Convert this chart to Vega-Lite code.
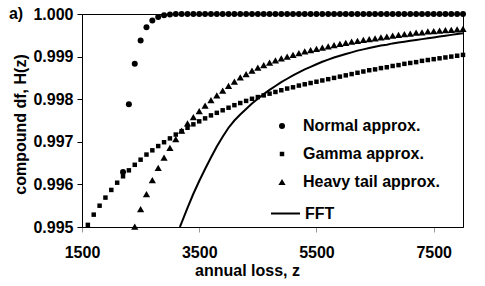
{
  "$schema": "https://vega.github.io/schema/vega-lite/v6.json",
  "width": 381,
  "height": 213,
  "autosize": {"type": "none"},
  "padding": {"left": 82, "top": 14, "right": 22, "bottom": 59},
  "background": "white",
  "title": {"text": "a)", "anchor": "start", "frame": "bounds", "orient": "top", "fontSize": 16, "font": "Liberation Sans", "fontWeight": "bold", "color": "black", "offset": 0, "baseline": "alphabetic", "dy": 29, "dx": -4},
  "config": {
    "view": {"stroke": "black", "strokeWidth": 1},
    "axis": {"grid": false, "domainColor": "black", "labelFont": "Liberation Sans", "labelFontWeight": "bold", "labelFontSize": 16, "labelColor": "black", "titleFont": "Liberation Sans", "titleFontWeight": "bold", "titleFontSize": 16, "titleColor": "black"},
    "legend": {"labelFont": "Liberation Sans", "labelFontWeight": "bold", "labelFontSize": 16, "labelColor": "black", "padding": 0}
  },
  "datasets": {
    "pts": [
      {"series": "Normal approx.", "z": 2200, "H": 0.99629},
      {"series": "Normal approx.", "z": 2300, "H": 0.99788},
      {"series": "Normal approx.", "z": 2400, "H": 0.99883},
      {"series": "Normal approx.", "z": 2500, "H": 0.99938},
      {"series": "Normal approx.", "z": 2600, "H": 0.99969},
      {"series": "Normal approx.", "z": 2700, "H": 0.99985},
      {"series": "Normal approx.", "z": 2800, "H": 0.99993},
      {"series": "Normal approx.", "z": 2900, "H": 0.99997},
      {"series": "Normal approx.", "z": 3000, "H": 0.99999},
      {"series": "Normal approx.", "z": 3100, "H": 1.0},
      {"series": "Normal approx.", "z": 3200, "H": 1.0},
      {"series": "Normal approx.", "z": 3300, "H": 1.0},
      {"series": "Normal approx.", "z": 3400, "H": 1.0},
      {"series": "Normal approx.", "z": 3500, "H": 1.0},
      {"series": "Normal approx.", "z": 3600, "H": 1.0},
      {"series": "Normal approx.", "z": 3700, "H": 1.0},
      {"series": "Normal approx.", "z": 3800, "H": 1.0},
      {"series": "Normal approx.", "z": 3900, "H": 1.0},
      {"series": "Normal approx.", "z": 4000, "H": 1.0},
      {"series": "Normal approx.", "z": 4100, "H": 1.0},
      {"series": "Normal approx.", "z": 4200, "H": 1.0},
      {"series": "Normal approx.", "z": 4300, "H": 1.0},
      {"series": "Normal approx.", "z": 4400, "H": 1.0},
      {"series": "Normal approx.", "z": 4500, "H": 1.0},
      {"series": "Normal approx.", "z": 4600, "H": 1.0},
      {"series": "Normal approx.", "z": 4700, "H": 1.0},
      {"series": "Normal approx.", "z": 4800, "H": 1.0},
      {"series": "Normal approx.", "z": 4900, "H": 1.0},
      {"series": "Normal approx.", "z": 5000, "H": 1.0},
      {"series": "Normal approx.", "z": 5100, "H": 1.0},
      {"series": "Normal approx.", "z": 5200, "H": 1.0},
      {"series": "Normal approx.", "z": 5300, "H": 1.0},
      {"series": "Normal approx.", "z": 5400, "H": 1.0},
      {"series": "Normal approx.", "z": 5500, "H": 1.0},
      {"series": "Normal approx.", "z": 5600, "H": 1.0},
      {"series": "Normal approx.", "z": 5700, "H": 1.0},
      {"series": "Normal approx.", "z": 5800, "H": 1.0},
      {"series": "Normal approx.", "z": 5900, "H": 1.0},
      {"series": "Normal approx.", "z": 6000, "H": 1.0},
      {"series": "Normal approx.", "z": 6100, "H": 1.0},
      {"series": "Normal approx.", "z": 6200, "H": 1.0},
      {"series": "Normal approx.", "z": 6300, "H": 1.0},
      {"series": "Normal approx.", "z": 6400, "H": 1.0},
      {"series": "Normal approx.", "z": 6500, "H": 1.0},
      {"series": "Normal approx.", "z": 6600, "H": 1.0},
      {"series": "Normal approx.", "z": 6700, "H": 1.0},
      {"series": "Normal approx.", "z": 6800, "H": 1.0},
      {"series": "Normal approx.", "z": 6900, "H": 1.0},
      {"series": "Normal approx.", "z": 7000, "H": 1.0},
      {"series": "Normal approx.", "z": 7100, "H": 1.0},
      {"series": "Normal approx.", "z": 7200, "H": 1.0},
      {"series": "Normal approx.", "z": 7300, "H": 1.0},
      {"series": "Normal approx.", "z": 7400, "H": 1.0},
      {"series": "Normal approx.", "z": 7500, "H": 1.0},
      {"series": "Normal approx.", "z": 7600, "H": 1.0},
      {"series": "Normal approx.", "z": 7700, "H": 1.0},
      {"series": "Normal approx.", "z": 7800, "H": 1.0},
      {"series": "Normal approx.", "z": 7900, "H": 1.0},
      {"series": "Normal approx.", "z": 8000, "H": 1.0},
      {"series": "Gamma approx.", "z": 1600, "H": 0.99505},
      {"series": "Gamma approx.", "z": 1700, "H": 0.99529},
      {"series": "Gamma approx.", "z": 1800, "H": 0.9955},
      {"series": "Gamma approx.", "z": 1900, "H": 0.99569},
      {"series": "Gamma approx.", "z": 2000, "H": 0.99587},
      {"series": "Gamma approx.", "z": 2100, "H": 0.99604},
      {"series": "Gamma approx.", "z": 2200, "H": 0.99619},
      {"series": "Gamma approx.", "z": 2300, "H": 0.99633},
      {"series": "Gamma approx.", "z": 2400, "H": 0.99646},
      {"series": "Gamma approx.", "z": 2500, "H": 0.99658},
      {"series": "Gamma approx.", "z": 2600, "H": 0.9967},
      {"series": "Gamma approx.", "z": 2700, "H": 0.9968},
      {"series": "Gamma approx.", "z": 2800, "H": 0.9969},
      {"series": "Gamma approx.", "z": 2900, "H": 0.99699},
      {"series": "Gamma approx.", "z": 3000, "H": 0.99708},
      {"series": "Gamma approx.", "z": 3100, "H": 0.99717},
      {"series": "Gamma approx.", "z": 3200, "H": 0.99725},
      {"series": "Gamma approx.", "z": 3300, "H": 0.99733},
      {"series": "Gamma approx.", "z": 3400, "H": 0.99741},
      {"series": "Gamma approx.", "z": 3500, "H": 0.99748},
      {"series": "Gamma approx.", "z": 3600, "H": 0.99755},
      {"series": "Gamma approx.", "z": 3700, "H": 0.99762},
      {"series": "Gamma approx.", "z": 3800, "H": 0.99768},
      {"series": "Gamma approx.", "z": 3900, "H": 0.99774},
      {"series": "Gamma approx.", "z": 4000, "H": 0.9978},
      {"series": "Gamma approx.", "z": 4100, "H": 0.99786},
      {"series": "Gamma approx.", "z": 4200, "H": 0.99791},
      {"series": "Gamma approx.", "z": 4300, "H": 0.99796},
      {"series": "Gamma approx.", "z": 4400, "H": 0.99801},
      {"series": "Gamma approx.", "z": 4500, "H": 0.99805},
      {"series": "Gamma approx.", "z": 4600, "H": 0.99809},
      {"series": "Gamma approx.", "z": 4700, "H": 0.99813},
      {"series": "Gamma approx.", "z": 4800, "H": 0.99817},
      {"series": "Gamma approx.", "z": 4900, "H": 0.99821},
      {"series": "Gamma approx.", "z": 5000, "H": 0.99825},
      {"series": "Gamma approx.", "z": 5100, "H": 0.99828},
      {"series": "Gamma approx.", "z": 5200, "H": 0.99832},
      {"series": "Gamma approx.", "z": 5300, "H": 0.99835},
      {"series": "Gamma approx.", "z": 5400, "H": 0.99838},
      {"series": "Gamma approx.", "z": 5500, "H": 0.99841},
      {"series": "Gamma approx.", "z": 5600, "H": 0.99844},
      {"series": "Gamma approx.", "z": 5700, "H": 0.99847},
      {"series": "Gamma approx.", "z": 5800, "H": 0.9985},
      {"series": "Gamma approx.", "z": 5900, "H": 0.99853},
      {"series": "Gamma approx.", "z": 6000, "H": 0.99856},
      {"series": "Gamma approx.", "z": 6100, "H": 0.99859},
      {"series": "Gamma approx.", "z": 6200, "H": 0.99862},
      {"series": "Gamma approx.", "z": 6300, "H": 0.99865},
      {"series": "Gamma approx.", "z": 6400, "H": 0.99868},
      {"series": "Gamma approx.", "z": 6500, "H": 0.9987},
      {"series": "Gamma approx.", "z": 6600, "H": 0.99873},
      {"series": "Gamma approx.", "z": 6700, "H": 0.99875},
      {"series": "Gamma approx.", "z": 6800, "H": 0.99878},
      {"series": "Gamma approx.", "z": 6900, "H": 0.9988},
      {"series": "Gamma approx.", "z": 7000, "H": 0.99883},
      {"series": "Gamma approx.", "z": 7100, "H": 0.99885},
      {"series": "Gamma approx.", "z": 7200, "H": 0.99887},
      {"series": "Gamma approx.", "z": 7300, "H": 0.9989},
      {"series": "Gamma approx.", "z": 7400, "H": 0.99892},
      {"series": "Gamma approx.", "z": 7500, "H": 0.99894},
      {"series": "Gamma approx.", "z": 7600, "H": 0.99896},
      {"series": "Gamma approx.", "z": 7700, "H": 0.99898},
      {"series": "Gamma approx.", "z": 7800, "H": 0.999},
      {"series": "Gamma approx.", "z": 7900, "H": 0.99902},
      {"series": "Gamma approx.", "z": 8000, "H": 0.99904},
      {"series": "Heavy tail approx.", "z": 2400, "H": 0.99501},
      {"series": "Heavy tail approx.", "z": 2500, "H": 0.99542},
      {"series": "Heavy tail approx.", "z": 2600, "H": 0.99577},
      {"series": "Heavy tail approx.", "z": 2700, "H": 0.9961},
      {"series": "Heavy tail approx.", "z": 2800, "H": 0.99639},
      {"series": "Heavy tail approx.", "z": 2900, "H": 0.99663},
      {"series": "Heavy tail approx.", "z": 3000, "H": 0.99686},
      {"series": "Heavy tail approx.", "z": 3100, "H": 0.99706},
      {"series": "Heavy tail approx.", "z": 3200, "H": 0.99726},
      {"series": "Heavy tail approx.", "z": 3300, "H": 0.99743},
      {"series": "Heavy tail approx.", "z": 3400, "H": 0.99758},
      {"series": "Heavy tail approx.", "z": 3500, "H": 0.99772},
      {"series": "Heavy tail approx.", "z": 3600, "H": 0.99785},
      {"series": "Heavy tail approx.", "z": 3700, "H": 0.99798},
      {"series": "Heavy tail approx.", "z": 3800, "H": 0.99809},
      {"series": "Heavy tail approx.", "z": 3900, "H": 0.9982},
      {"series": "Heavy tail approx.", "z": 4000, "H": 0.99831},
      {"series": "Heavy tail approx.", "z": 4100, "H": 0.99841},
      {"series": "Heavy tail approx.", "z": 4200, "H": 0.99851},
      {"series": "Heavy tail approx.", "z": 4300, "H": 0.99859},
      {"series": "Heavy tail approx.", "z": 4400, "H": 0.99867},
      {"series": "Heavy tail approx.", "z": 4500, "H": 0.99874},
      {"series": "Heavy tail approx.", "z": 4600, "H": 0.9988},
      {"series": "Heavy tail approx.", "z": 4700, "H": 0.99886},
      {"series": "Heavy tail approx.", "z": 4800, "H": 0.99891},
      {"series": "Heavy tail approx.", "z": 4900, "H": 0.99896},
      {"series": "Heavy tail approx.", "z": 5000, "H": 0.999},
      {"series": "Heavy tail approx.", "z": 5100, "H": 0.99904},
      {"series": "Heavy tail approx.", "z": 5200, "H": 0.99908},
      {"series": "Heavy tail approx.", "z": 5300, "H": 0.99912},
      {"series": "Heavy tail approx.", "z": 5400, "H": 0.99915},
      {"series": "Heavy tail approx.", "z": 5500, "H": 0.99918},
      {"series": "Heavy tail approx.", "z": 5600, "H": 0.99921},
      {"series": "Heavy tail approx.", "z": 5700, "H": 0.99924},
      {"series": "Heavy tail approx.", "z": 5800, "H": 0.99927},
      {"series": "Heavy tail approx.", "z": 5900, "H": 0.9993},
      {"series": "Heavy tail approx.", "z": 6000, "H": 0.99932},
      {"series": "Heavy tail approx.", "z": 6100, "H": 0.99935},
      {"series": "Heavy tail approx.", "z": 6200, "H": 0.99937},
      {"series": "Heavy tail approx.", "z": 6300, "H": 0.99939},
      {"series": "Heavy tail approx.", "z": 6400, "H": 0.99941},
      {"series": "Heavy tail approx.", "z": 6500, "H": 0.99943},
      {"series": "Heavy tail approx.", "z": 6600, "H": 0.99945},
      {"series": "Heavy tail approx.", "z": 6700, "H": 0.99947},
      {"series": "Heavy tail approx.", "z": 6800, "H": 0.99949},
      {"series": "Heavy tail approx.", "z": 6900, "H": 0.99951},
      {"series": "Heavy tail approx.", "z": 7000, "H": 0.99953},
      {"series": "Heavy tail approx.", "z": 7100, "H": 0.99954},
      {"series": "Heavy tail approx.", "z": 7200, "H": 0.99956},
      {"series": "Heavy tail approx.", "z": 7300, "H": 0.99957},
      {"series": "Heavy tail approx.", "z": 7400, "H": 0.99959},
      {"series": "Heavy tail approx.", "z": 7500, "H": 0.9996},
      {"series": "Heavy tail approx.", "z": 7600, "H": 0.99961},
      {"series": "Heavy tail approx.", "z": 7700, "H": 0.99962},
      {"series": "Heavy tail approx.", "z": 7800, "H": 0.99963},
      {"series": "Heavy tail approx.", "z": 7900, "H": 0.99964},
      {"series": "Heavy tail approx.", "z": 8000, "H": 0.99965}
    ],
    "fft": [
      {"series": "FFT", "z": 3170, "H": 0.995},
      {"series": "FFT", "z": 3200, "H": 0.9951},
      {"series": "FFT", "z": 3300, "H": 0.99545},
      {"series": "FFT", "z": 3400, "H": 0.99578},
      {"series": "FFT", "z": 3500, "H": 0.99608},
      {"series": "FFT", "z": 3600, "H": 0.99636},
      {"series": "FFT", "z": 3700, "H": 0.99663},
      {"series": "FFT", "z": 3800, "H": 0.99689},
      {"series": "FFT", "z": 3900, "H": 0.99712},
      {"series": "FFT", "z": 4000, "H": 0.99733},
      {"series": "FFT", "z": 4100, "H": 0.9975},
      {"series": "FFT", "z": 4200, "H": 0.99764},
      {"series": "FFT", "z": 4300, "H": 0.99777},
      {"series": "FFT", "z": 4400, "H": 0.9979},
      {"series": "FFT", "z": 4500, "H": 0.99801},
      {"series": "FFT", "z": 4600, "H": 0.99812},
      {"series": "FFT", "z": 4700, "H": 0.99822},
      {"series": "FFT", "z": 4800, "H": 0.99831},
      {"series": "FFT", "z": 4900, "H": 0.9984},
      {"series": "FFT", "z": 5000, "H": 0.99848},
      {"series": "FFT", "z": 5100, "H": 0.99856},
      {"series": "FFT", "z": 5200, "H": 0.99863},
      {"series": "FFT", "z": 5300, "H": 0.9987},
      {"series": "FFT", "z": 5400, "H": 0.99876},
      {"series": "FFT", "z": 5500, "H": 0.99882},
      {"series": "FFT", "z": 5600, "H": 0.99888},
      {"series": "FFT", "z": 5700, "H": 0.99893},
      {"series": "FFT", "z": 5800, "H": 0.99898},
      {"series": "FFT", "z": 5900, "H": 0.99902},
      {"series": "FFT", "z": 6000, "H": 0.99906},
      {"series": "FFT", "z": 6100, "H": 0.9991},
      {"series": "FFT", "z": 6200, "H": 0.99914},
      {"series": "FFT", "z": 6300, "H": 0.99917},
      {"series": "FFT", "z": 6400, "H": 0.9992},
      {"series": "FFT", "z": 6500, "H": 0.99923},
      {"series": "FFT", "z": 6600, "H": 0.99926},
      {"series": "FFT", "z": 6700, "H": 0.99928},
      {"series": "FFT", "z": 6800, "H": 0.99931},
      {"series": "FFT", "z": 6900, "H": 0.99933},
      {"series": "FFT", "z": 7000, "H": 0.99935},
      {"series": "FFT", "z": 7100, "H": 0.99937},
      {"series": "FFT", "z": 7200, "H": 0.99939},
      {"series": "FFT", "z": 7300, "H": 0.99941},
      {"series": "FFT", "z": 7400, "H": 0.99943},
      {"series": "FFT", "z": 7500, "H": 0.99945},
      {"series": "FFT", "z": 7600, "H": 0.99947},
      {"series": "FFT", "z": 7700, "H": 0.99949},
      {"series": "FFT", "z": 7800, "H": 0.99951},
      {"series": "FFT", "z": 7900, "H": 0.99953},
      {"series": "FFT", "z": 8000, "H": 0.99955}
    ]
  },
  "encoding": {
    "x": {"field": "z", "type": "quantitative", "scale": {"domain": [1500, 8000], "nice": false, "zero": false},
      "axis": {"values": [1500, 3500, 5500, 7500], "format": "d", "title": "annual loss, z", "tickSize": 5, "tickColor": "#999999", "labelPadding": 12, "titlePadding": 2, "labelFlush": false, "titleX": 165}},
    "y": {"field": "H", "type": "quantitative", "scale": {"domain": [0.995, 1.0], "nice": false, "zero": false},
      "axis": {"values": [0.995, 0.996, 0.997, 0.998, 0.999, 1.0], "format": ".3f", "title": "compound df, H(z)", "tickSize": 5, "tickColor": "black", "labelPadding": 4, "titlePadding": 4, "labelFlush": false, "titleY": 110}}
  },
  "layer": [
    {
      "data": {"name": "pts"},
      "mark": {"type": "point", "filled": true, "color": "black", "opacity": 1},
      "encoding": {
        "shape": {"field": "series", "type": "nominal",
          "scale": {"domain": ["Normal approx.", "Gamma approx.", "Heavy tail approx."], "range": ["circle", "square", "triangle-up"]},
          "legend": {"title": null, "orient": "none", "legendX": 192, "legendY": 104, "padding": 0, "labelOffset": 13, "rowPadding": 12, "symbolFillColor": "black", "symbolStrokeColor": "black", "symbolStrokeWidth": 0}},
        "size": {"field": "series", "type": "nominal",
          "scale": {"type": "ordinal", "domain": ["Normal approx.", "Gamma approx.", "Heavy tail approx."], "range": [36, 20, 52]}}
      }
    },
    {
      "data": {"name": "fft"},
      "mark": {"type": "line", "color": "black", "strokeWidth": 2, "clip": true},
      "encoding": {
        "color": {"field": "series", "type": "nominal", "scale": {"domain": ["FFT"], "range": ["black"]},
          "legend": {"title": null, "orient": "none", "legendX": 188, "legendY": 184, "padding": 0, "symbolType": "stroke", "symbolSize": 841, "symbolStrokeWidth": 2, "symbolStrokeColor": "black", "labelOffset": 4}}
      }
    }
  ]
}
